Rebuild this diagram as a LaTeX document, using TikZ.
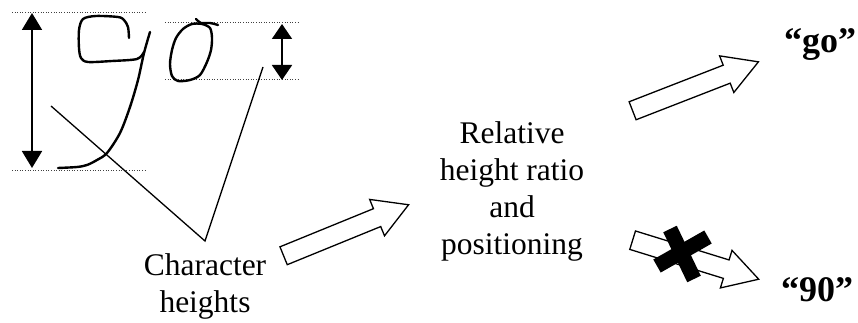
\documentclass[tikz,border=0pt]{standalone}
\usepackage{fontspec}
\setmainfont{Liberation Serif}
\usetikzlibrary{arrows.meta,shapes.arrows}

\begin{document}
\begin{tikzpicture}[x=1pt,y=-1pt,
  guide/.style={black!75,line width=1pt,dash pattern=on 1pt off 1.6pt},
  span/.style={line width=1.8pt,{Triangle[width=20pt,length=17pt]}-{Triangle[width=20pt,length=17pt]}},
  spansmall/.style={line width=1.8pt,{Triangle[width=20pt,length=15pt]}-{Triangle[width=20pt,length=15pt]}},
  ink/.style={line width=2.4pt,line cap=round,line join=round},
  pointer/.style={line width=1.3pt},
  caption/.style={font=\fontsize{31.5}{37}\selectfont,align=center,inner sep=0pt},
  word/.style={font=\bfseries\fontsize{36}{40}\selectfont,inner sep=0pt},
  blockarrow/.style={single arrow,draw,fill=white,line width=1.3pt,minimum width=38pt,
    single arrow head extend=10pt,single arrow tip angle=60,inner xsep=0pt,inner ysep=9pt,
    sloped,anchor=tail,pos=0}]
\useasboundingbox (0,0) rectangle (858,323);
\draw[guide] (12,13) -- (145,13);
\draw[guide] (12,170) -- (145,170);
\draw[guide] (165,23) -- (298,23);
\draw[guide] (165,80) -- (298,80);
\coordinate (tall top) at (32,13);
\coordinate (tall bot) at (32,168);
\draw[span] (tall top) -- (tall bot);
\coordinate (short top) at (282,24);
\coordinate (short bot) at (282,80);
\draw[spansmall] (short top) -- (short bot);
\draw[ink] plot[smooth] coordinates {(129,38) (128,27) (124,20) (118,17) (96,16) (83,19) (79,30) (79,48) (81,58) (88,62) (112,61) (137,59) (144,52)};
\draw[ink] plot[smooth] coordinates {(150,32) (144,53) (138,80) (130,107) (120,133) (107,153) (97,160) (87,165) (77,167) (58,168)};
\draw[ink] plot[smooth cycle] coordinates {(202,24) (210,28) (212,38) (211,50) (207,62) (200,75) (190,80) (178,81) (172,76) (170,64) (172,50) (176,38) (183,29) (192,24)};
\draw[ink] plot[smooth] coordinates {(196,19) (201,23) (210,23) (218,25)};
\node[caption] (chars) at (205,286) {Character\\heights};
\coordinate (base) at (205,241);
\coordinate (to9) at (51,106);
\coordinate (to0) at (263,67);
\draw[pointer] (to9) -- (base) -- (to0);
\node[caption] (ratio) at (512,191) {Relative\\height ratio\\and\\positioning};
\node[word] (go) at (820,45) {“go”};
\node[word] (ninety) at (817,290) {“90”};
\coordinate (a1s) at (283,256);
\coordinate (a1e) at (408,205);
\path (a1s) -- (a1e) node[blockarrow,minimum height=135pt] (toratio) {};
\coordinate (a2s) at (632,111);
\coordinate (a2e) at (758,62);
\path (a2s) -- (a2e) node[blockarrow,minimum height=135pt] (togo) {};
\coordinate (a3s) at (632,240);
\coordinate (a3e) at (758,279);
\path (a3s) -- (a3e) node[blockarrow,minimum height=132pt] (toninety) {};
\draw[line width=15pt] (670,229) -- (694,279);
\draw[line width=15pt] (657,266) -- (708,237);
\end{tikzpicture}
\end{document}
